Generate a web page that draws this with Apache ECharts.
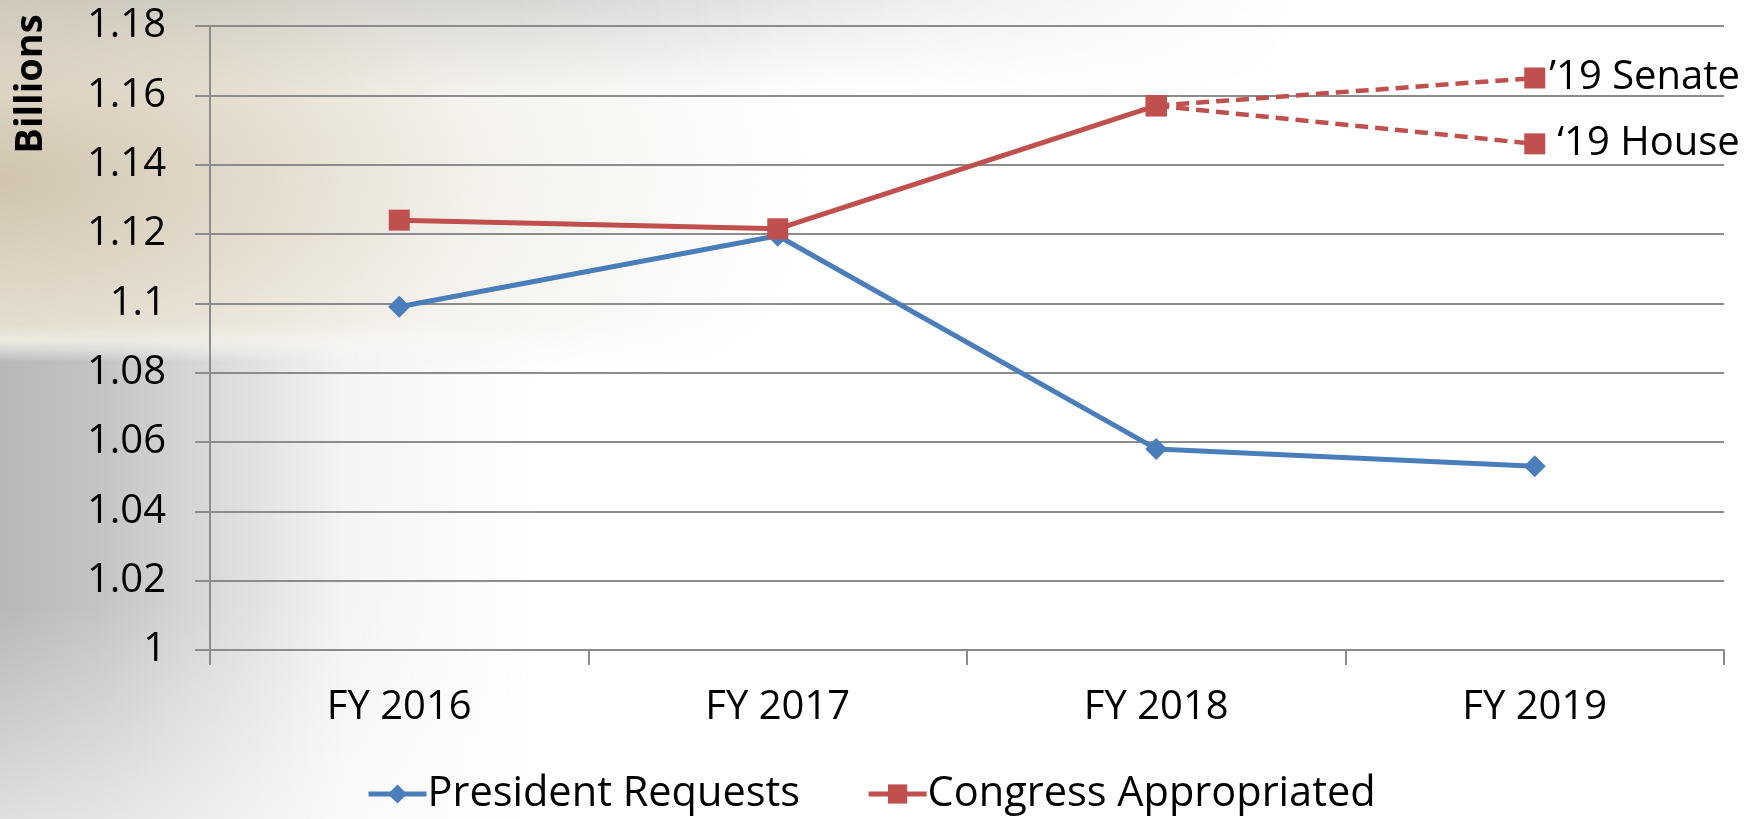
<!DOCTYPE html>
<html>
<head>
<meta charset="utf-8">
<script src="https://cdn.jsdelivr.net/npm/echarts@6/dist/echarts.min.js"></script>
<style>
  html, body { margin: 0; padding: 0; width: 1754px; height: 819px; overflow: hidden; background: #ffffff; }
  .bg { position: absolute; pointer-events: none; }
  #beige {
    left: 0; top: 0; width: 1100px; height: 378px;
    background: radial-gradient(ellipse 820px 430px at 0px 180px, rgba(203,190,165,0.9) 0%, rgba(214,203,182,0.7) 30%, rgba(232,225,212,0.42) 60%, rgba(255,255,255,0) 100%);
    -webkit-mask-image: linear-gradient(to bottom, #000 0%, #000 86%, transparent 100%);
    mask-image: linear-gradient(to bottom, #000 0%, #000 86%, transparent 100%);
  }
  #sky {
    left: 0; top: 0; width: 1300px; height: 95px;
    background: linear-gradient(to right, rgba(140,138,130,0.6) 0%, rgba(160,160,160,0.45) 40%, rgba(200,200,200,0.3) 70%, rgba(255,255,255,0) 100%);
    -webkit-mask-image: linear-gradient(to bottom, #000 0%, transparent 100%);
    mask-image: linear-gradient(to bottom, #000 0%, transparent 100%);
  }
  #sea {
    left: 0; top: 340px; width: 720px; height: 479px;
    background: linear-gradient(to right, rgb(183,183,183) 0%, rgb(196,196,196) 14%, rgb(218,218,218) 30%, rgba(238,238,238,0.65) 48%, rgba(255,255,255,0) 75%);
    -webkit-mask-image: linear-gradient(to bottom, transparent 0px, #000 22px, #000 55%, rgba(0,0,0,0.45) 100%);
    mask-image: linear-gradient(to bottom, transparent 0px, #000 22px, #000 55%, rgba(0,0,0,0.45) 100%);
  }
  #chart { position: absolute; left: 0; top: 0; width: 1754px; height: 819px; }
</style>
</head>
<body>
<div id="sky" class="bg"></div>
<div id="beige" class="bg"></div>
<div id="sea" class="bg"></div>
<div id="chart"></div>
<script>
// ---- data ----
const categories = ["FY 2016", "FY 2017", "FY 2018", "FY 2019"];
const presidentRequests = [1.099, 1.1195, 1.058, 1.053];
const congressAppropriated = [1.124, 1.1215, 1.157, null];
const senate19 = [null, null, 1.157, 1.165];
const house19 = [null, null, 1.157, 1.146];
const senateLabel = "\u201919 Senate";
const houseLabel = "\u201819 House";
const yAxisName = "Billions";
const yMin = 1, yMax = 1.18, yInterval = 0.02;

const blue = "#4a7ebb";
const red = "#c0504d";
const font = "'Open Sans', 'Noto Sans', sans-serif";

function withEndLabel(arr, text) {
  return arr.map((v, i) => i === arr.length - 1
    ? { value: v, label: { show: true, formatter: text } }
    : v);
}

const chart = echarts.init(document.getElementById('chart'), null, { renderer: 'canvas' });
chart.setOption({
  backgroundColor: 'transparent',
  animation: false,
  textStyle: { fontFamily: font },
  grid: { left: 210, right: 30, top: 26, bottom: 169, containLabel: false },
  legend: {
    data: ["President Requests", "Congress Appropriated"],
    left: 361, top: 768,
    itemWidth: 58, itemHeight: 24, itemGap: 66,
    lineStyle: { width: 5 },
    textStyle: { fontFamily: font, fontSize: 41.5, color: '#000', padding: [0, 0, 0, -4] }
  },
  xAxis: {
    type: 'category',
    data: categories,
    boundaryGap: true,
    axisLine: { show: true, lineStyle: { color: '#8c8c8c', width: 2 } },
    axisTick: { show: true, length: 15, lineStyle: { color: '#8c8c8c', width: 2 } },
    axisLabel: { fontFamily: font, fontSize: 40, color: '#000', margin: 38 },
    splitLine: { show: false }
  },
  yAxis: {
    type: 'value',
    min: yMin, max: yMax, interval: yInterval,
    axisLine: { show: true, lineStyle: { color: '#8c8c8c', width: 2 } },
    axisTick: { show: true, length: 15, lineStyle: { color: '#8c8c8c', width: 2 } },
    axisLabel: {
      fontFamily: font, fontSize: 40, color: '#000', margin: 44,
      formatter: v => String(parseFloat(v.toFixed(2)))
    },
    splitLine: { show: true, lineStyle: { color: '#8c8c8c', width: 2 } }
  },
  graphic: [{
    type: 'text',
    x: 31, y: 84,
    rotation: Math.PI / 2,
    style: {
      text: yAxisName,
      font: "bold 38px " + font,
      fill: '#000',
      textAlign: 'center',
      textVerticalAlign: 'middle'
    }
  }],
  series: [
    {
      name: "President Requests",
      type: 'line',
      data: presidentRequests,
      symbol: 'diamond', symbolSize: 22,
      itemStyle: { color: blue },
      lineStyle: { color: blue, width: 5 },
      z: 3
    },
    {
      name: "Congress Appropriated",
      type: 'line',
      data: congressAppropriated,
      symbol: 'rect', symbolSize: 21,
      itemStyle: { color: red },
      lineStyle: { color: red, width: 5 },
      z: 4
    },
    {
      name: "Senate19",
      type: 'line',
      data: withEndLabel(senate19, senateLabel),
      symbol: 'rect', symbolSize: 21,
      itemStyle: { color: red },
      lineStyle: { color: red, width: 4.5, type: [13, 7] },
      label: { show: false, position: 'right', distance: 4, fontFamily: font, fontSize: 40, color: '#000' },
      z: 4
    },
    {
      name: "House19",
      type: 'line',
      data: withEndLabel(house19, houseLabel),
      symbol: 'rect', symbolSize: 21,
      itemStyle: { color: red },
      lineStyle: { color: red, width: 4.5, type: [13, 7] },
      label: { show: false, position: 'right', distance: 12, fontFamily: font, fontSize: 40, color: '#000' },
      z: 4
    }
  ]
});
</script>
</body>
</html>
